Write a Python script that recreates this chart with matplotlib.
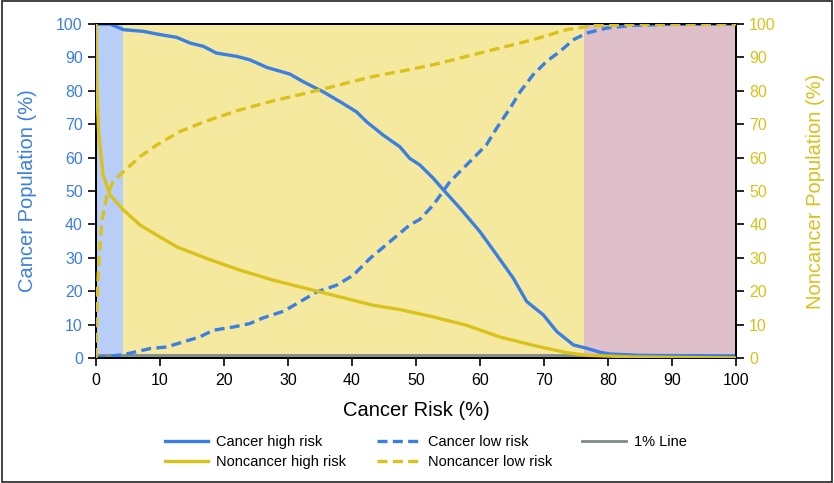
import matplotlib
matplotlib.use('Agg')
import matplotlib.pyplot as plt
from matplotlib.patches import Rectangle

plt.rcParams['font.family'] = ['Liberation Sans', 'DejaVu Sans']

blue = '#3b7fe3'
yellow = '#d9c21c'
gray = '#7d8b8b'

# zone edges along cancer risk (%)
zone_edges = [0, 4.2, 76.2, 100]
zone_colors = ['#b8cef6', '#f4e99f', '#dfc0ca']

# cancer high risk (solid blue)
ch_x = [0, 2.2, 4.3, 7.4, 9.5, 12.6, 14.7, 16.8, 18.8, 22, 24, 26.7, 30.3, 32.4, 35.5,
        38.6, 40.7, 42.3, 44.9, 47.5, 49, 50.6, 52.7, 54.3, 56.9, 60, 62.6, 65.2, 67.3,
        69.9, 72, 74.6, 76.7, 78.8, 80.3, 85, 100]
ch_y = [100, 100, 98.3, 97.8, 97, 96, 94.3, 93.3, 91.3, 90.3, 89.3, 87, 85, 82.7, 79.7,
        76.2, 73.7, 70.7, 66.7, 63.2, 59.8, 57.8, 53.8, 50.3, 44.8, 37.8, 30.9, 23.9, 16.9,
        12.9, 7.9, 3.9, 2.9, 1.7, 1.2, 0.8, 0.6]

# cancer low risk (dashed blue)
cl_x = [0, 4.3, 8.4, 11, 13.6, 16.2, 18.3, 21.5, 24, 26.1, 29.3, 31.4, 34.5, 37.6, 40.2,
        42.8, 45.9, 49, 50.6, 52.7, 55.3, 57.9, 61, 62.6, 64.7, 66.3, 68.3, 70.4, 72.5,
        74.6, 76.7, 79.8, 84, 90, 100]
cl_y = [0, 1, 2.8, 3.3, 4.8, 6.3, 8.3, 9.3, 10.3, 12, 14, 16.3, 19.8, 21.8, 24.8,
        29.8, 34.8, 39.8, 41.5, 45.8, 52.8, 57.8, 63.8, 68.8, 74.8, 79.8, 84.8, 88.8, 91.8,
        95.3, 97.3, 98.8, 99.6, 99.9, 100]

# noncancer high risk (solid yellow)
nh_x = [0, 0.1, 0.4, 1.1, 2.2, 4.3, 6.9, 9.5, 12.6, 17.3, 22.5, 27.7, 32.9, 38.1, 43.3,
        47.5, 52.7, 57.9, 63.1, 68.3, 73.5, 76.7, 84, 100]
nh_y = [100, 82.8, 67.8, 54.8, 48.8, 44.3, 39.8, 36.8, 33.3, 29.8, 26.3, 23.3, 20.8, 18.3,
        15.8, 14.5, 12.3, 9.8, 6.3, 3.8, 1.6, 0.8, 0.3, 0]

# noncancer low risk (dashed yellow)
nl_x = [0, 0.1, 0.4, 0.9, 1.7, 2.7, 4.3, 6.9, 9.5, 13.1, 17.3, 22.5, 27.7, 32.9, 38.1,
        43.3, 47.5, 52.7, 57.9, 63.1, 68.3, 73.5, 77.7, 85, 100]
nl_y = [0, 12.8, 27.8, 40.8, 48.8, 52.8, 55.8, 60.3, 63.8, 67.8, 71, 74.3, 77, 79.3, 81.8,
        84.3, 85.8, 87.8, 90.3, 92.8, 95.3, 98.3, 99.5, 99.9, 100]

one_pct = 1

fig = plt.figure(figsize=(8.34, 4.83), dpi=100)
fig.patches.append(Rectangle((0.002, 0.003), 0.996, 0.994, transform=fig.transFigure,
                             fill=False, edgecolor='#222222', linewidth=1.2))
ax = fig.add_axes([0.1151, 0.2588, 0.7674, 0.6915])
ax2 = ax.twinx()

for i in range(len(zone_colors)):
    ax.axvspan(zone_edges[i], zone_edges[i + 1], color=zone_colors[i], lw=0, zorder=0)

dash = (0, (3, 1.6))
ax.axhline(one_pct, color=gray, lw=2, zorder=2)
l1, = ax.plot(ch_x, ch_y, color=blue, lw=2.4, zorder=3)
l2, = ax.plot(cl_x, cl_y, color=blue, lw=2.4, ls=dash, zorder=3)
l3, = ax2.plot(nh_x, nh_y, color=yellow, lw=2.4, zorder=3)
l4, = ax2.plot(nl_x, nl_y, color=yellow, lw=2.4, ls=dash, zorder=3)
l5 = plt.Line2D([], [], color=gray, lw=2)

ax.set_xlim(0, 100)
ax.set_ylim(0, 100)
ax2.set_ylim(0, 100)
ax.set_xticks(range(0, 101, 10))
ax.set_yticks(range(0, 101, 10))
ax2.set_yticks(range(0, 101, 10))

ax.tick_params(axis='y', colors=blue, labelsize=11.5, length=6, width=1.2)
ax.tick_params(axis='x', colors='black', labelsize=11.5, length=6, width=1.2, pad=5)
ax2.tick_params(axis='y', colors=yellow, labelsize=11.5, length=6, width=1.2)
for a in (ax, ax2):
    for s in a.spines.values():
        s.set_linewidth(1.3)
        s.set_color('black')
for lab in ax.get_yticklabels():
    lab.set_color(blue)
for lab in ax2.get_yticklabels():
    lab.set_color(yellow)
ax.tick_params(axis='y', color='black')
ax2.tick_params(axis='y', color='black')
ax.tick_params(axis='x', color='black')

ax.set_xlabel('Cancer Risk (%)', fontsize=14.5, labelpad=9)
ax.set_ylabel('Cancer Population (%)', fontsize=14.5, color=blue, labelpad=14)
ax2.set_ylabel('Noncancer Population (%)', fontsize=14.5, color=yellow, labelpad=22)

fig.legend([l1, l3, l2, l4, l5],
           ['Cancer high risk', 'Noncancer high risk', 'Cancer low risk',
            'Noncancer low risk', '1% Line'],
           loc='lower left', bbox_to_anchor=(0.182, 0.002), ncol=3, frameon=False,
           fontsize=10.5, handlelength=2.95, handletextpad=0.55, columnspacing=2.1,
           labelspacing=0.38)

fig.savefig('out.png', dpi=100)
